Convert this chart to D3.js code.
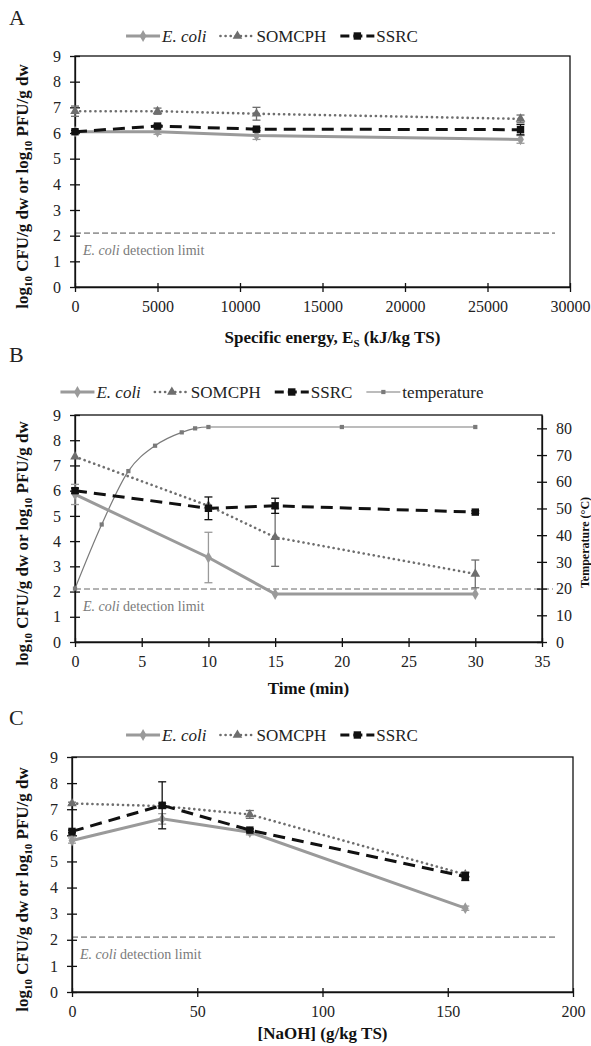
<!DOCTYPE html>
<html>
<head>
<meta charset="utf-8">
<script src="https://cdn.jsdelivr.net/npm/d3@7"></script>
<style>
  body { margin: 0; background: #fff; }
  svg, svg text { font-family: "Liberation Serif", "Times New Roman", Times, "DejaVu Serif", "Noto Serif", serif; }
</style>
</head>
<body>
<svg id="chart" width="591" height="1046"></svg>
<script>
// ---- panel A: specific energy
const aX = [0, 5000, 11000, 27000];
const aEcoli = [6.05, 6.05, 5.9, 5.75];
const aEcoliErr = [0.05, 0.1, 0.15, 0.15];
const aSomcph = [6.85, 6.85, 6.75, 6.55];
const aSomcphErr = [0.2, 0.12, 0.25, 0.15];
const aSsrc = [6.05, 6.27, 6.15, 6.13];
const aSsrcErr = [0.05, 0.05, 0.05, 0.2];
const aXTicks = [0, 5000, 10000, 15000, 20000, 25000, 30000];

// ---- panel B: time
const bX = [0, 10, 15, 30];
const bEcoli = [5.85, 3.35, 1.9, 1.9];
const bEcoliErr = [0.4, 1.0, 0, 0];
const bSomcph = [7.35, 5.4, 4.15, 2.7];
const bSomcphErr = [0, 0, 1.15, 0.55];
const bSsrc = [6.0, 5.3, 5.4, 5.15];
const bSsrcErr = [0.1, 0.45, 0.3, 0.05];
const bTempTime = [0, 2, 4, 6, 8, 9, 10, 20, 30];
const bTemp = [20, 44, 64, 73.5, 78.5, 80, 80.5, 80.5, 80.5];
const bXTicks = [0, 5, 10, 15, 20, 25, 30, 35];
const bTempTicks = [0, 10, 20, 30, 40, 50, 60, 70, 80];

// ---- panel C: NaOH
const cX = [0, 36, 71, 157];
const cEcoli = [5.8, 6.63, 6.12, 3.21];
const cEcoliErr = [0.1, 0.2, 0.1, 0.08];
const cSomcph = [7.22, 7.12, 6.8, 4.5];
const cSomcphErr = [0.05, 0.1, 0.15, 0.1];
const cSsrc = [6.15, 7.15, 6.2, 4.42];
const cSsrcErr = [0.05, 0.9, 0.05, 0.15];
const cXTicks = [0, 50, 100, 150, 200];

const yTicks = [0, 1, 2, 3, 4, 5, 6, 7, 8, 9];
const detectionLimit = 2.1;

const FONT = "'Liberation Serif', 'Times New Roman', Times, 'DejaVu Serif', serif";
const svg = d3.select("#chart");

const styles = {
    ecoli: { color: "#9a9a9a", width: 3, dash: null, marker: d3.symbolDiamond, msize: 40 },
    somcph: { color: "#6e6e6e", width: 2.6, dash: "0.1 5", cap: "round", marker: d3.symbolTriangle, msize: 40 },
    ssrc: { color: "#111", width: 3, dash: "12 7", marker: d3.symbolSquare, msize: 55 },
    temp: { color: "#7a7a7a", width: 1.2, dash: null, marker: d3.symbolSquare, msize: 18 }
};

function drawLegend(items, cy) {
    let g = svg.append("g");
    let x = 0;
    items.forEach(function(it) {
        let st = styles[it.key];
        let sample = g.append("g").attr("transform", "translate(" + x + "," + cy + ")");
        sample.append("line")
            .attr("x1", 0).attr("x2", 34)
            .attr("stroke", st.color)
            .attr("stroke-width", st.width)
            .attr("stroke-dasharray", st.dash ? (it.key == "ssrc" ? "9 4" : st.dash) : null)
            .attr("stroke-linecap", st.cap || "butt");
        sample.append("path")
            .attr("d", d3.symbol().type(st.marker).size(st.msize))
            .attr("transform", "translate(17,0)")
            .attr("fill", st.color);
        let t = g.append("text")
            .attr("x", x + 36)
            .attr("y", cy + 6)
            .attr("font-family", FONT)
            .attr("font-size", "17px")
            .attr("fill", "#222");
        if (it.italic) {
            t.append("tspan").attr("font-style", "italic").text("E. coli");
        } else {
            t.text(it.label);
        }
        x += 36 + t.node().getComputedTextLength() + 14;
    });
    let w = x - 14;
    g.attr("transform", "translate(" + (272 - w / 2) + ",0)");
}

function yLabel(cx, cy) {
    let t = svg.append("text")
        .attr("transform", "translate(" + cx + "," + cy + ") rotate(-90)")
        .attr("text-anchor", "middle")
        .attr("font-family", FONT)
        .attr("font-size", "17px")
        .attr("font-weight", "bold")
        .attr("fill", "#111");
    t.append("tspan").text("log");
    t.append("tspan").attr("font-size", "11px").attr("dy", 4).text("10");
    t.append("tspan").attr("dy", -4).text(" CFU/g dw or log");
    t.append("tspan").attr("font-size", "11px").attr("dy", 4).text("10");
    t.append("tspan").attr("dy", -4).text(" PFU/g dw");
}

function styleAxis(axisG, horizontal) {
    axisG.attr("font-family", FONT);
    axisG.select(".domain").attr("stroke", "#111").attr("stroke-width", 1.3);
    axisG.selectAll(".tick line").attr("stroke", "#111").attr("stroke-width", 1.3);
    if (horizontal) {
        axisG.selectAll(".tick line").attr("y1", -4).attr("y2", 5);
    } else {
        axisG.selectAll(".tick line").attr("x1", -5).attr("x2", 5);
    }
    axisG.selectAll(".tick text")
        .attr("font-family", FONT)
        .attr("font-size", "16px")
        .attr("fill", "#222");
}

function drawPanel(p) {
    let x = d3.scaleLinear().domain(p.xDomain).range([p.left, p.right]);
    let y = d3.scaleLinear().domain([0, 9]).range([p.bottom, p.top]);

    // panel letter
    svg.append("text")
        .attr("x", 9).attr("y", p.letterY)
        .attr("font-family", FONT)
        .attr("font-size", "22px").attr("fill", "#222")
        .text(p.letter);

    // frame
    svg.append("rect")
        .attr("x", p.left).attr("y", p.top)
        .attr("width", p.right - p.left).attr("height", p.bottom - p.top)
        .attr("fill", "none").attr("stroke", "#111").attr("stroke-width", 1.3);

    // detection limit
    svg.append("line")
        .attr("x1", p.left).attr("x2", p.detEnd)
        .attr("y1", y(detectionLimit)).attr("y2", y(detectionLimit))
        .attr("stroke", "#9a9a9a").attr("stroke-width", 1.6)
        .attr("stroke-dasharray", "6 3");
    let dl = svg.append("text")
        .attr("x", p.left + 8).attr("y", y(detectionLimit) + 22)
        .attr("font-family", FONT)
        .attr("font-size", "14px").attr("fill", "#7a7a7a");
    dl.append("tspan").attr("font-style", "italic").text("E. coli");
    dl.append("tspan").text(" detection limit");

    // axes
    let xa = svg.append("g")
        .attr("transform", "translate(0," + p.bottom + ")")
        .call(d3.axisBottom(x).tickValues(p.xTicks).tickFormat(d3.format("d")).tickSizeOuter(0).tickPadding(8));
    styleAxis(xa, true);
    let ya = svg.append("g")
        .attr("transform", "translate(" + p.left + ",0)")
        .call(d3.axisLeft(y).tickValues(yTicks).tickFormat(d3.format("d")).tickSizeOuter(0).tickPadding(8));
    styleAxis(ya, false);

    // x label
    let xl = svg.append("text")
        .attr("x", (p.left + p.right) / 2 + p.xLabelShift).attr("y", p.xLabelY)
        .attr("text-anchor", "middle")
        .attr("font-family", FONT)
        .attr("font-size", "17px").attr("font-weight", "bold").attr("fill", "#111");
    p.xLabel(xl);

    yLabel(28, (p.top + p.bottom) / 2 + 15);

    // temperature (panel B only)
    if (p.temp) {
        let yT = d3.scaleLinear().domain([0, 85]).range([p.bottom, p.top]);
        let ra = svg.append("g")
            .attr("transform", "translate(" + p.right + ",0)")
            .call(d3.axisRight(yT).tickValues(bTempTicks).tickSizeOuter(0).tickPadding(8));
        styleAxis(ra, false);
        svg.append("text")
            .attr("transform", "translate(589," + ((p.top + p.bottom) / 2 + 14) + ") rotate(-90)")
            .attr("text-anchor", "middle")
            .attr("font-family", FONT)
            .attr("font-size", "12px").attr("font-weight", "bold").attr("fill", "#111")
            .text("Temperature (°C)");
        let st = styles.temp;
        let pts = p.temp.x.map(function(d, i) { return [d, p.temp.y[i]]; });
        svg.append("path")
            .datum(pts)
            .attr("fill", "none")
            .attr("stroke", st.color)
            .attr("stroke-width", st.width)
            .attr("d", d3.line().curve(d3.curveMonotoneX)
                .x(function(d) { return x(d[0]); })
                .y(function(d) { return yT(d[1]); }));
        svg.selectAll(null)
            .data(pts).enter()
            .append("path")
            .attr("d", d3.symbol().type(st.marker).size(st.msize))
            .attr("transform", function(d) { return "translate(" + x(d[0]) + "," + yT(d[1]) + ")"; })
            .attr("fill", st.color);
    }

    // series
    p.series.forEach(function(s) {
        let st = styles[s.key];
        let pts = p.xs.map(function(d, i) { return { x: d, y: s.values[i], e: s.err[i] }; });

        // error bars
        let eb = svg.append("g");
        pts.forEach(function(d) {
            if (!d.e) return;
            let px = x(d.x);
            eb.append("line")
                .attr("x1", px).attr("x2", px)
                .attr("y1", y(d.y - d.e)).attr("y2", y(d.y + d.e))
                .attr("stroke", st.color).attr("stroke-width", 1.3);
            [d.y - d.e, d.y + d.e].forEach(function(v) {
                eb.append("line")
                    .attr("x1", px - 4).attr("x2", px + 4)
                    .attr("y1", y(v)).attr("y2", y(v))
                    .attr("stroke", st.color).attr("stroke-width", 1.3);
            });
        });

        svg.append("path")
            .datum(pts)
            .attr("fill", "none")
            .attr("stroke", st.color)
            .attr("stroke-width", st.width)
            .attr("stroke-dasharray", st.dash)
            .attr("stroke-linecap", st.cap || "butt")
            .attr("d", d3.line()
                .x(function(d) { return x(d.x); })
                .y(function(d) { return y(d.y); }));

        svg.selectAll(null)
            .data(pts).enter()
            .append("path")
            .attr("d", d3.symbol().type(st.marker).size(st.msize))
            .attr("transform", function(d) { return "translate(" + x(d.x) + "," + y(d.y) + ")"; })
            .attr("fill", st.color);
    });
}

const legend3 = [
    { key: "ecoli", italic: true },
    { key: "somcph", label: "SOMCPH" },
    { key: "ssrc", label: "SSRC" }
];
const legend4 = legend3.concat([{ key: "temp", label: "temperature" }]);

// A
drawLegend(legend3, 36);
drawPanel({
    letter: "A", letterY: 25,
    left: 75, right: 570, top: 56, bottom: 287,
    xDomain: [0, 30000], xTicks: aXTicks, detEnd: 555,
    xLabelY: 343, xLabelShift: 10,
    xLabel: function(t) {
        t.append("tspan").text("Specific energy, E");
        t.append("tspan").attr("font-size", "11px").attr("dy", 4).text("S");
        t.append("tspan").attr("dy", -4).text(" (kJ/kg TS)");
    },
    xs: aX,
    series: [
        { key: "ecoli", values: aEcoli, err: aEcoliErr },
        { key: "somcph", values: aSomcph, err: aSomcphErr },
        { key: "ssrc", values: aSsrc, err: aSsrcErr }
    ]
});

// B
drawLegend(legend4, 392);
drawPanel({
    letter: "B", letterY: 362,
    left: 75, right: 542, top: 415, bottom: 642,
    xDomain: [0, 35], xTicks: bXTicks, detEnd: 553,
    xLabelY: 694, xLabelShift: 0,
    xLabel: function(t) { t.text("Time (min)"); },
    xs: bX,
    temp: { x: bTempTime, y: bTemp },
    series: [
        { key: "ecoli", values: bEcoli, err: bEcoliErr },
        { key: "somcph", values: bSomcph, err: bSomcphErr },
        { key: "ssrc", values: bSsrc, err: bSsrcErr }
    ]
});

// C
drawLegend(legend3, 735);
drawPanel({
    letter: "C", letterY: 725,
    left: 72, right: 573, top: 757, bottom: 992,
    xDomain: [0, 200], xTicks: cXTicks, detEnd: 556,
    xLabelY: 1039, xLabelShift: 0,
    xLabel: function(t) { t.text("[NaOH] (g/kg TS)"); },
    xs: cX,
    series: [
        { key: "ecoli", values: cEcoli, err: cEcoliErr },
        { key: "somcph", values: cSomcph, err: cSomcphErr },
        { key: "ssrc", values: cSsrc, err: cSsrcErr }
    ]
});
</script>
</body>
</html>
